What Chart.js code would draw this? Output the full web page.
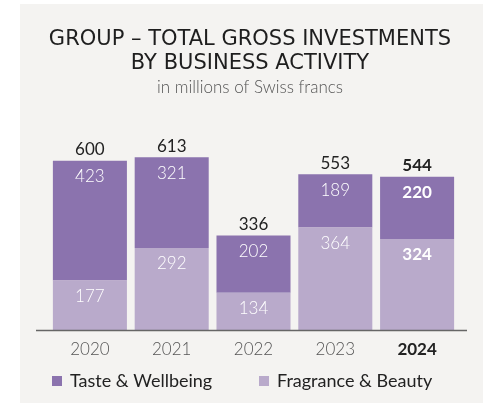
<!DOCTYPE html>
<html lang="en">
<head>
    <meta charset="UTF-8">
    <title>Group – Total Gross Investments</title>
    <script src="https://cdn.jsdelivr.net/npm/chart.js"></script>
    <style>
        html, body { margin: 0; padding: 0; background: #ffffff; }
        #chart-box { width: 494px; height: 403px; }
    </style>
</head>
<body>
    <div id="chart-box">
        <canvas id="invest-chart"></canvas>
    </div>

    <script>
        // Data (CHF millions)
        const years = ['2020', '2021', '2022', '2023', '2024'];
        const fragranceBeauty = [177, 292, 134, 364, 324];
        const tasteWellbeing = [423, 321, 202, 189, 220];
        const totals = [600, 613, 336, 553, 544];

        const darkPurple = '#8b73ae';
        const lightPurple = '#b9aacb';
        const fontFamily = 'Lato, "Open Sans", sans-serif';
        const titleFamily = '"DejaVu Sans", "Open Sans", sans-serif';

        // Grey panel behind the chart
        const panelPlugin = {
            id: 'panel',
            beforeDraw(chart) {
                const ctx = chart.ctx;
                ctx.save();
                ctx.fillStyle = '#f4f3f1';
                ctx.fillRect(20, 4, 463, 399);
                ctx.restore();
            }
        };

        // Values inside the segments, totals above, base line and legend
        const labelsPlugin = {
            id: 'barLabels',
            afterDatasetsDraw(chart) {
                const ctx = chart.ctx;
                const area = chart.chartArea;
                ctx.save();
                ctx.textAlign = 'center';
                ctx.textBaseline = 'middle';

                chart.data.datasets.forEach((ds, di) => {
                    const meta = chart.getDatasetMeta(di);
                    meta.data.forEach((bar, i) => {
                        const last = i === years.length - 1;
                        ctx.font = (last ? 'bold ' : '300 ') + '17px ' + fontFamily;
                        ctx.fillStyle = '#ffffff';
                        ctx.fillText(ds.data[i], bar.x, bar.y + 16);
                    });
                });

                const topMeta = chart.getDatasetMeta(chart.data.datasets.length - 1);
                topMeta.data.forEach((bar, i) => {
                    const last = i === years.length - 1;
                    ctx.font = (last ? 'bold ' : '400 ') + '17px ' + fontFamily;
                    ctx.fillStyle = '#222222';
                    ctx.fillText(totals[i], bar.x, bar.y - 11);
                });

                // base line
                ctx.strokeStyle = '#666666';
                ctx.lineWidth = 1.5;
                ctx.beginPath();
                ctx.moveTo(36, area.bottom);
                ctx.lineTo(467, area.bottom);
                ctx.stroke();

                // legend
                const legendItems = [
                    { text: 'Taste & Wellbeing', color: darkPurple, x: 52 },
                    { text: 'Fragrance & Beauty', color: lightPurple, x: 259 }
                ];
                const ly = 381;
                ctx.textAlign = 'left';
                ctx.font = '400 18px ' + fontFamily;
                legendItems.forEach(item => {
                    ctx.fillStyle = item.color;
                    ctx.fillRect(item.x, ly - 5, 10, 10);
                    ctx.fillStyle = '#222222';
                    ctx.fillText(item.text, item.x + 18, ly);
                });
                ctx.restore();
            }
        };

        const ctx = document.getElementById('invest-chart').getContext('2d');
        const chart = new Chart(ctx, {
            type: 'bar',
            data: {
                labels: years,
                datasets: [
                    {
                        label: 'Fragrance & Beauty',
                        data: fragranceBeauty,
                        backgroundColor: lightPurple,
                        barPercentage: 0.905,
                        categoryPercentage: 1
                    },
                    {
                        label: 'Taste & Wellbeing',
                        data: tasteWellbeing,
                        backgroundColor: darkPurple,
                        barPercentage: 0.905,
                        categoryPercentage: 1
                    }
                ]
            },
            options: {
                responsive: true,
                maintainAspectRatio: false,
                animation: false,
                layout: {
                    padding: { left: 42, right: 36, top: 0, bottom: 34 }
                },
                plugins: {
                    legend: { display: false },
                    tooltip: { enabled: false },
                    title: {
                        display: true,
                        text: ['GROUP – TOTAL GROSS INVESTMENTS', 'BY BUSINESS ACTIVITY'],
                        color: '#1e1e1e',
                        font: { family: titleFamily, size: 21, weight: 'normal', lineHeight: 1.12 },
                        padding: { top: 28.2, bottom: 0 }
                    },
                    subtitle: {
                        display: true,
                        text: 'in millions of Swiss francs',
                        color: '#555555',
                        font: { family: fontFamily, size: 17, weight: '300', lineHeight: 1.2 },
                        padding: { top: 2.5, bottom: 34.4 }
                    }
                },
                scales: {
                    x: {
                        stacked: true,
                        grid: { display: false, drawTicks: false },
                        border: { display: false },
                        ticks: {
                            padding: 9,
                            color: ctx => ctx.index === 4 ? '#222222' : '#555555',
                            font: ctx => ({
                                family: fontFamily,
                                size: 17,
                                weight: ctx.index === 4 ? 'bold' : '300'
                            })
                        }
                    },
                    y: {
                        stacked: true,
                        min: 0,
                        max: 700,
                        grid: { display: false, drawTicks: false },
                        border: { display: false },
                        ticks: { display: false },
                        afterFit(scale) { scale.width = 7; }
                    }
                }
            },
            plugins: [panelPlugin, labelsPlugin]
        });
    </script>
</body>
</html>
